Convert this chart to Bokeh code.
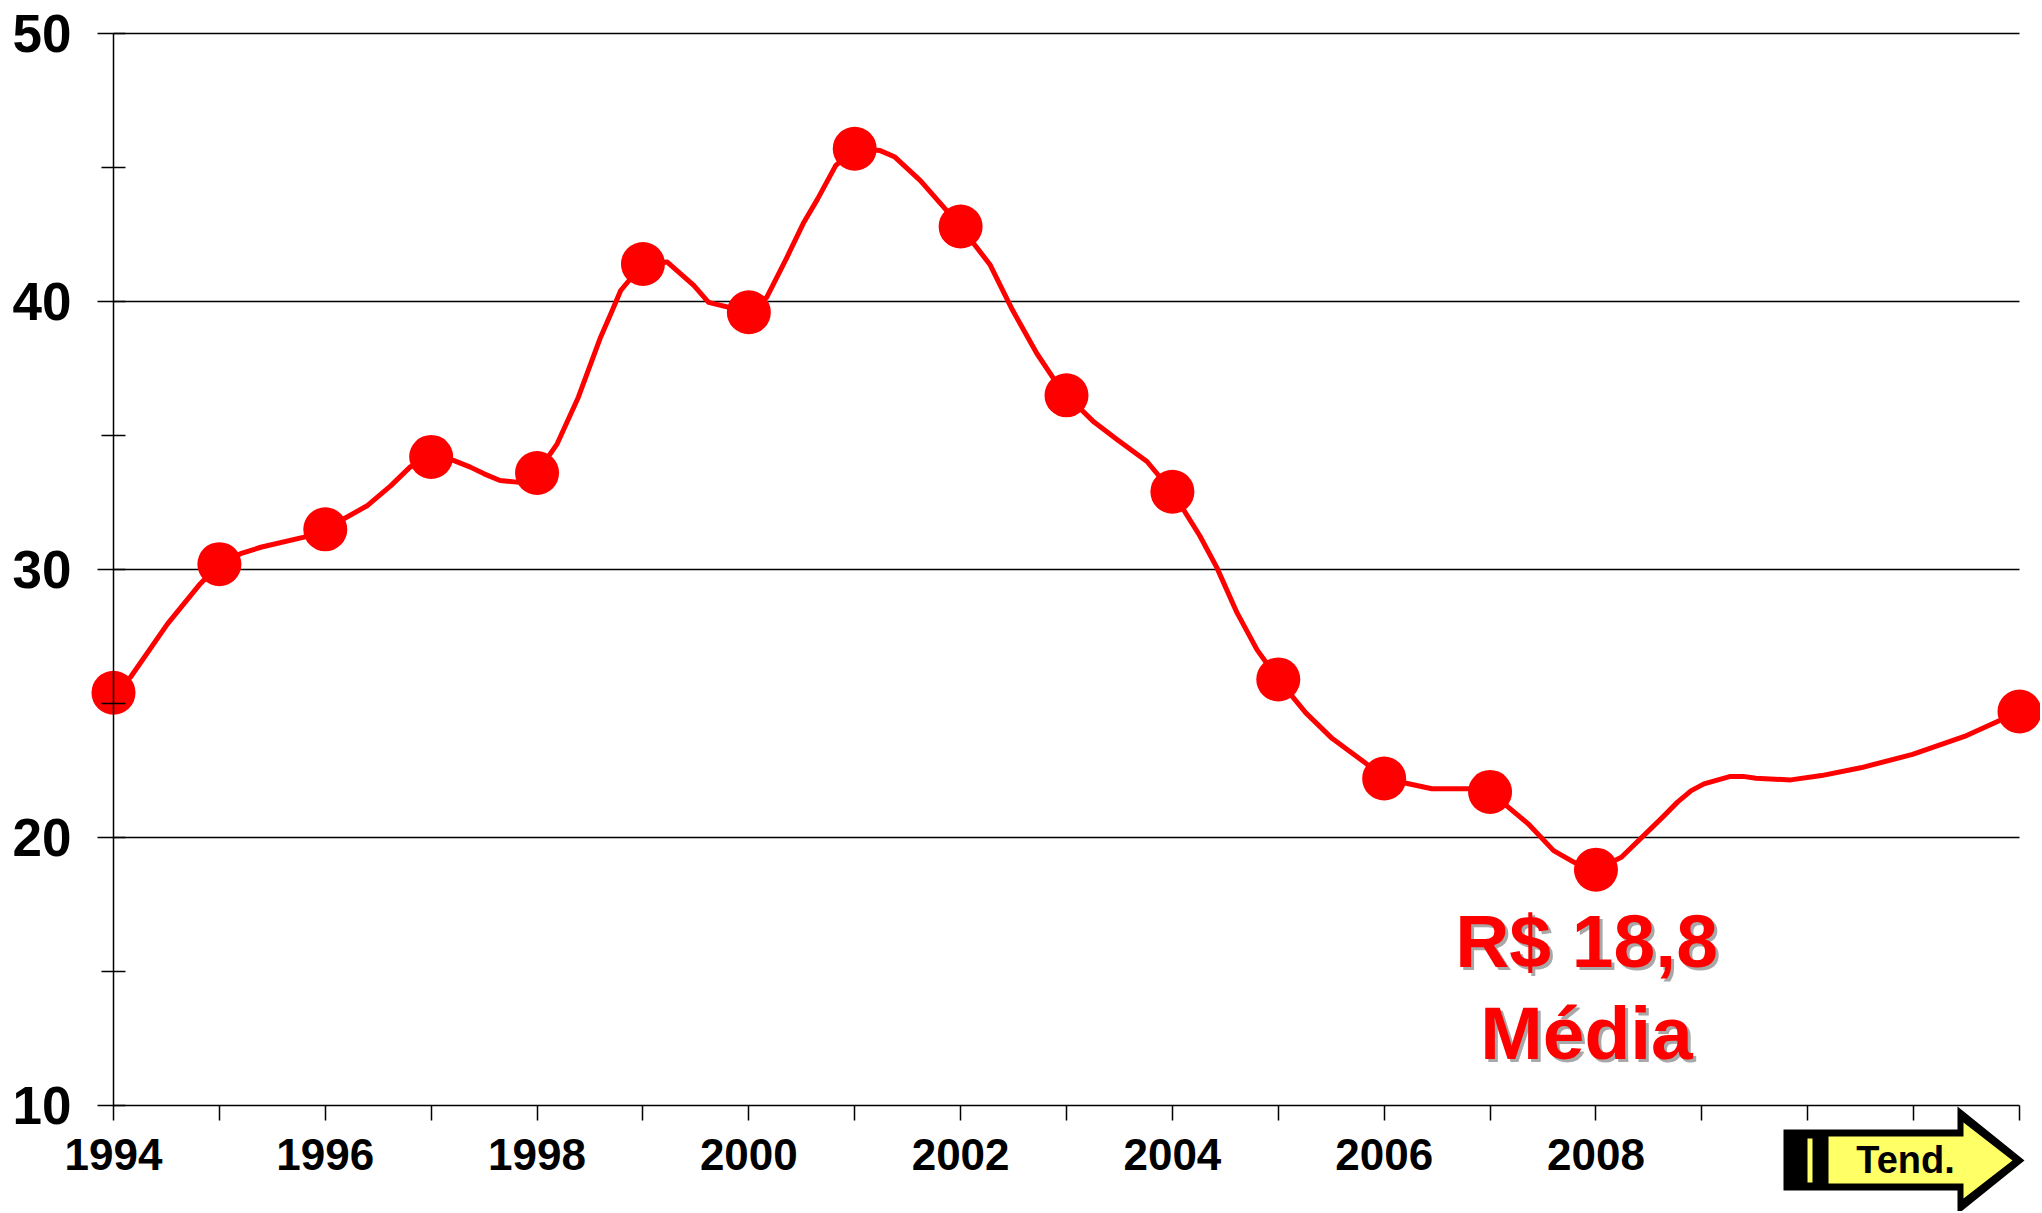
from bokeh.plotting import figure
from bokeh.models import Range1d, FixedTicker, Label
from bokeh.embed import file_html
from bokeh.resources import INLINE

# ---------------- data ----------------
years = [1994, 1995, 1996, 1997, 1998, 1999, 2000, 2001, 2002, 2003,
         2004, 2005, 2006, 2007, 2008, 2012]
prices = [25.4, 30.2, 31.5, 34.2, 33.6, 41.4, 39.6, 45.7, 42.8, 36.5,
          32.9, 25.9, 22.2, 21.7, 18.8, 24.7]

# traced points of the smoothed curve between the yearly markers
curve_years = [1994.00, 1994.16, 1994.51, 1994.82, 1995.00, 1995.20, 1995.39, 1995.80,
               1996.00, 1996.40, 1996.62, 1996.80, 1997.00, 1997.21, 1997.37, 1997.50,
               1997.65, 1997.81, 1998.00, 1998.19, 1998.39, 1998.60, 1998.71, 1998.79,
               1999.00, 1999.23, 1999.48, 1999.62, 2000.00, 2000.17, 2000.36, 2000.52,
               2000.65, 2000.82, 2001.00, 2001.24, 2001.38, 2001.62, 2001.84, 2002.00,
               2002.28, 2002.49, 2002.72, 2002.88, 2003.00, 2003.26, 2003.48, 2003.76,
               2004.00, 2004.26, 2004.42, 2004.61, 2004.80, 2005.00, 2005.26, 2005.51,
               2005.81, 2006.00, 2006.45, 2006.84, 2007.00, 2007.36, 2007.60, 2007.79,
               2008.00, 2008.24, 2008.63, 2008.77, 2008.90, 2009.02, 2009.27, 2009.39,
               2009.51, 2009.84, 2010.13, 2010.50, 2010.99, 2011.48, 2012.00]
curve_prices = [25.4, 25.98, 27.97, 29.47, 30.2, 30.59, 30.83, 31.21,
                31.5, 32.39, 33.13, 33.82, 34.2, 34.07, 33.82, 33.57,
                33.32, 33.26, 33.6, 34.69, 36.43, 38.67, 39.66, 40.41,
                41.4, 41.47, 40.60, 39.97, 39.6, 40.16, 41.65, 42.96,
                43.83, 45.07, 45.7, 45.63, 45.39, 44.51, 43.52, 42.8,
                41.36, 39.68, 38.06, 37.11, 36.5, 35.50, 34.84, 34.03,
                32.9, 31.25, 30.07, 28.39, 27.00, 25.9, 24.65, 23.69,
                22.82, 22.2, 21.82, 21.82, 21.7, 20.51, 19.51, 19.08,
                18.8, 19.26, 20.76, 21.32, 21.75, 22.00, 22.28, 22.28,
                22.21, 22.15, 22.31, 22.60, 23.10, 23.77, 24.7]

x_ticks = list(range(1994, 2013))
x_tick_labels = ["1994", "1996", "1998", "2000", "2002", "2004", "2006", "2008"]
y_ticks = [10, 20, 30, 40, 50]
y_minor_ticks = [15, 25, 35, 45]
y_tick_labels = ["10", "20", "30", "40", "50"]
note_lines = ["R$ 18,8", "Média"]
trend_text = "Tend."

# ---------------- geometry ----------------
W, H = 2040, 1211
X0_PX, X1_PX = 113, 2019     # canvas px of first / last year
Y0_PX, Y1_PX = 1105, 33      # canvas px of lowest / highest y tick
sx = (X1_PX - X0_PX) / (x_ticks[-1] - x_ticks[0])
sy = (Y0_PX - Y1_PX) / (y_ticks[-1] - y_ticks[0])
x_start = x_ticks[0] - X0_PX / sx
x_end = x_start + W / sx
y_top = y_ticks[-1] + Y1_PX / sy
y_bottom = y_top - H / sy


def px(fx, fy):
    """canvas pixel -> data coordinates (for decorations)"""
    return x_start + fx / sx, y_top - fy / sy


FONT = "Liberation Sans"

p = figure(width=W, height=H, output_backend="svg", toolbar_location=None,
           x_range=Range1d(x_start, x_end), y_range=Range1d(y_bottom, y_top),
           min_border=0, min_border_left=0, min_border_right=0,
           min_border_top=0, min_border_bottom=0)
p.outline_line_color = None
p.grid.visible = False
p.background_fill_color = "white"
p.border_fill_color = "white"

# axes placed at fixed data locations
xa = p.xaxis[0]
xa.fixed_location = y_ticks[0]
xa.bounds = (x_ticks[0], x_ticks[-1])
xa.ticker = FixedTicker(ticks=x_ticks)
xa.major_label_overrides = {t: (str(t) if str(t) in x_tick_labels else "") for t in x_ticks}
xa.major_tick_in = 0
xa.major_tick_out = 15
xa.minor_tick_in = 0
xa.minor_tick_out = 0
xa.major_label_standoff = 18
xa.major_label_text_font = FONT
xa.major_label_text_font_style = "bold"
xa.major_label_text_font_size = "44px"
xa.major_label_text_color = "black"
xa.axis_line_color = "black"
xa.axis_line_width = 1.5
xa.major_tick_line_color = "black"
xa.major_tick_line_width = 1.5

ya = p.yaxis[0]
ya.fixed_location = x_ticks[0]
ya.bounds = (y_ticks[0], y_ticks[-1])
ya.ticker = FixedTicker(ticks=y_ticks, minor_ticks=y_minor_ticks)
ya.major_label_overrides = {t: lab for t, lab in zip(y_ticks, y_tick_labels)}
ya.major_tick_in = 12
ya.major_tick_out = 16
ya.minor_tick_in = 12
ya.minor_tick_out = 12
ya.major_label_standoff = 26
ya.major_label_text_font = FONT
ya.major_label_text_font_style = "bold"
ya.major_label_text_font_size = "53px"
ya.major_label_text_color = "black"
ya.axis_line_color = "black"
ya.axis_line_width = 1.5
ya.major_tick_line_color = "black"
ya.major_tick_line_width = 1.5
ya.minor_tick_line_color = "black"
ya.minor_tick_line_width = 1.5

# horizontal grid lines from first to last year
grid_levels = y_ticks[1:]
p.segment(x0=[x_ticks[0]] * len(grid_levels), y0=grid_levels,
          x1=[x_ticks[-1]] * len(grid_levels), y1=grid_levels,
          line_color="black", line_width=1.5)

# price curve and markers
p.line(curve_years, curve_prices, line_color="#FF0000", line_width=5,
       line_join="round", line_cap="round")
p.scatter(years, prices, size=44, fill_color="#FF0000", line_color=None)

# annotation with shadow (labels sit ~0.34 em low, compensated by y_offset)
note_pos = [px(1586, 965), px(1586, 1057)]
for (nx, ny), txt in zip(note_pos, note_lines):
    p.add_layout(Label(x=nx, y=ny, text=txt, text_font=FONT, text_font_style="bold",
                       text_font_size="75px", text_color="#A8A8A8", text_align="center",
                       text_baseline="alphabetic", x_offset=3, y_offset=22))
    p.add_layout(Label(x=nx, y=ny, text=txt, text_font=FONT, text_font_style="bold",
                       text_font_size="75px", text_color="#FF0000", text_align="center",
                       text_baseline="alphabetic", y_offset=25))

# "Tend." arrow decoration below the axis
outer = [px(x, y) for x, y in [(1783, 1129), (1957, 1129), (1957, 1106), (2024, 1160),
                               (1957, 1214), (1957, 1190), (1783, 1190)]]
inner = [px(x, y) for x, y in [(1828, 1136), (1963, 1136), (1963, 1122), (2012, 1160),
                               (1963, 1198), (1963, 1183), (1828, 1183)]]
stripe = [px(x, y) for x, y in [(1807, 1138), (1812, 1138), (1812, 1182), (1807, 1182)]]
p.patch([a for a, b in outer], [b for a, b in outer], fill_color="black", line_color=None)
p.patch([a for a, b in inner], [b for a, b in inner], fill_color="#FFFF66", line_color=None)
p.patch([a for a, b in stripe], [b for a, b in stripe], fill_color="#FFFF66", line_color=None)
tx, ty = px(1905, 1172)
p.add_layout(Label(x=tx, y=ty, text=trend_text, text_font=FONT, text_font_style="bold",
                   text_font_size="38px", text_color="black", text_align="center",
                   text_baseline="alphabetic", y_offset=13))

open("out.html", "w").write(file_html(p, INLINE))
